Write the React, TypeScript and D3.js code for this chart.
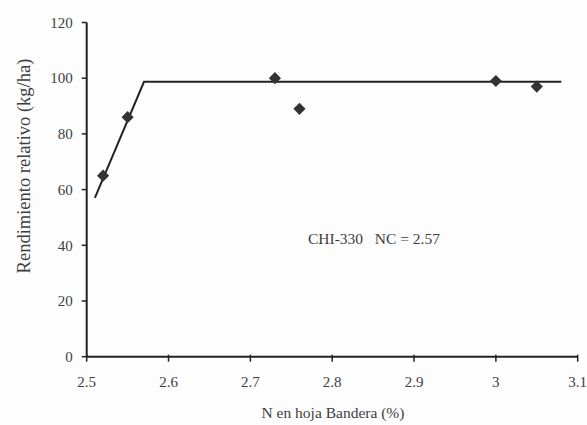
import React from "react";
import * as d3 from "d3";

const xTicks = [2.5, 2.6, 2.7, 2.8, 2.9, 3, 3.1];
const yTicks = [0, 20, 40, 60, 80, 100, 120];
const pointsX = [2.52, 2.55, 2.73, 2.76, 3.0, 3.05];
const pointsY = [65, 86, 100, 89, 99, 97];
const fitX = [2.51, 2.57, 3.08];
const fitY = [57, 98.7, 98.7];
const annotation = "CHI-330\u00a0\u00a0\u00a0NC = 2.57";
const xTitle = "N en hoja Bandera (%)";
const yTitle = "Rendimiento relativo (kg/ha)";

const W = 587;
const H = 425;
const font = '"Liberation Serif", "DejaVu Serif", serif';
const textColor = "#3d3d3d";
const lineColor = "#222";

export default function App() {
  const x = d3.scaleLinear().domain([2.5, 3.1]).range([86.7, 577.7]);
  const y = d3.scaleLinear().domain([0, 120]).range([356.7, 22.5]);
  const fitLine = d3
    .line<number>()
    .x((_, i) => x(fitX[i]))
    .y((d) => y(d))(fitY);
  const marker = d3.symbol().type(d3.symbolSquare).size(74)();
  const tStyle = { fontFamily: font, fill: textColor } as React.CSSProperties;

  return (
    <svg
      width={W}
      height={H}
      style={{ position: "absolute", left: 0, top: 0, background: "#fdfdfd" }}
    >
      {/* axes */}
      <line x1={x(2.5)} x2={x(2.5)} y1={y(0)} y2={y(120)} stroke={lineColor} strokeWidth={2} />
      <line x1={x(2.5)} x2={x(3.1)} y1={y(0)} y2={y(0)} stroke={lineColor} strokeWidth={2} />
      {yTicks.map((t) => (
        <g key={"y" + t}>
          <line x1={x(2.5) - 5} x2={x(2.5)} y1={y(t)} y2={y(t)} stroke={lineColor} strokeWidth={1.5} />
          <text x={x(2.5) - 14} y={y(t)} dy="0.35em" textAnchor="end" fontSize={15} style={tStyle}>
            {t}
          </text>
        </g>
      ))}
      {xTicks.map((t) => (
        <g key={"x" + t}>
          <line x1={x(t)} x2={x(t)} y1={y(0) - 2} y2={y(0) + 5} stroke={lineColor} strokeWidth={1.5} />
          <text x={x(t)} y={387} textAnchor="middle" fontSize={15} style={tStyle}>
            {t}
          </text>
        </g>
      ))}
      {/* fit line */}
      <path d={fitLine ?? ""} fill="none" stroke={lineColor} strokeWidth={2} />
      {/* points */}
      {pointsX.map((px, i) => (
        <path
          key={"p" + i}
          d={marker ?? ""}
          transform={`translate(${x(px)},${y(pointsY[i])}) rotate(45)`}
          fill="#333"
        />
      ))}
      {/* annotation */}
      <text x={308} y={244} fontSize={15.5} style={tStyle}>
        {annotation}
      </text>
      {/* titles */}
      <text x={333} y={418} textAnchor="middle" fontSize={15.5} style={tStyle}>
        {xTitle}
      </text>
      <text transform={`translate(30,166) rotate(-90)`} textAnchor="middle" fontSize={18.5} style={tStyle}>
        {yTitle}
      </text>
    </svg>
  );
}
